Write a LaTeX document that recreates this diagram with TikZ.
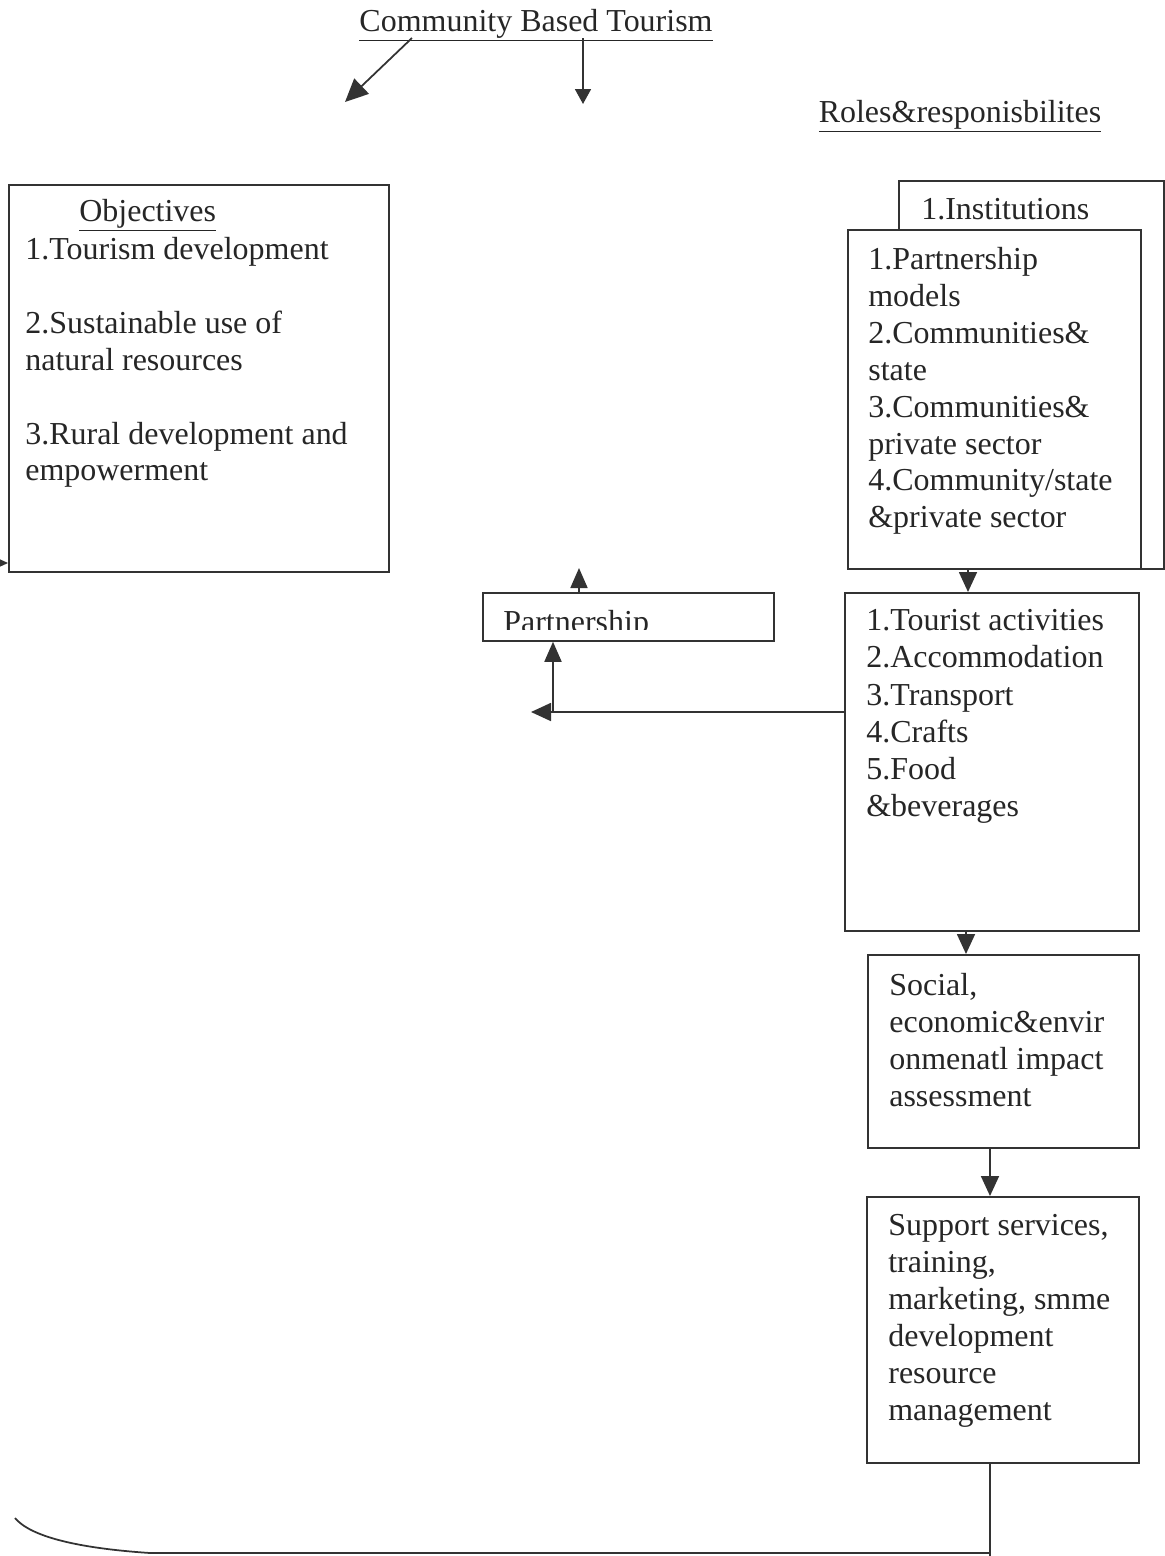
\documentclass[tikz,border=0pt]{standalone}
\usepackage{fontspec}
\setmainfont{Liberation Serif}
\usetikzlibrary{arrows.meta}

\begin{document}
\begin{tikzpicture}[x=0.02cm,y=-0.02cm,
  box/.style={draw=black!80, line width=1pt, fill=white, inner sep=0pt, anchor=north west},
  txt/.style={anchor=north west, inner sep=0pt, align=left, text=black!85,
    font=\fontsize{18.2}{21}\selectfont},
  link/.style={draw=black!80, line width=1pt},
  arr/.style={link, -{Triangle[length=0.4cm,width=0.36cm]}}]
  \useasboundingbox (0,0) rectangle (1165,1556);
  % headings
  \node[txt, anchor=base] (title) at (536,31) {\underline{Community Based Tourism}};
  \node[txt, anchor=base] (roles) at (960,122) {\underline{Roles\&responisbilites}};
  \coordinate (tl) at (412,38);
  \coordinate (tr) at (583,38);
  \draw[arr, -{Triangle[length=0.46cm,width=0.42cm]}] (tl) -- (345,102) coordinate (objtip);
  \draw[arr, -{Triangle[length=0.3cm,width=0.32cm]}] (tr) -- (583,104) coordinate (rolestip);
  % objectives
  \node[box, minimum width=7.6cm, minimum height=7.74cm] (obj) at (8,184) {};
  \node[txt] (objhead) at (79,199) {\underline{Objectives}};
  \node[txt] (objtext) at (25,237) {1.Tourism development\\[21pt]
    2.Sustainable use of\\natural resources\\[21pt]
    3.Rural development and\\empowerment};
  \coordinate (objin) at (-12,563);
  \draw[arr] (objin) -- (obj.west |- objin);
  % institutions
  \node[box, minimum width=5.3cm, minimum height=7.76cm] (instback) at (898,180) {};
  \node[txt] (insthead) at (921,198) {1.Institutions};
  \node[box, minimum width=5.86cm, minimum height=6.78cm] (inst) at (847,229) {};
  \node[txt] (insttext) at (868,247) {1.Partnership\\models\\2.Communities\&\\state\\
    3.Communities\&\\private sector\\4.Community/state\\\&private sector};
  % activities
  \node[box, minimum width=5.88cm, minimum height=6.76cm] (act) at (844,592) {};
  \node[txt, font=\fontsize{18.2}{21.2}\selectfont] (acttext) at (866,609) {1.Tourist activities\\
    2.Accommodation\\3.Transport\\4.Crafts\\5.Food\\\&beverages};
  % impact
  \node[box, minimum width=5.42cm, minimum height=3.86cm] (soc) at (867,954) {};
  \node[txt] (soctext) at (889,973) {Social,\\economic\&envir\\onmenatl impact\\assessment};
  % support
  \node[box, minimum width=5.44cm, minimum height=5.32cm] (sup) at (866,1196) {};
  \node[txt] (suptext) at (888,1214) {Support services,\\training,\\marketing, smme\\
    development\\resource\\management};
  % partnership
  \node[box, minimum width=5.82cm, minimum height=0.96cm] (part) at (482,592) {};
  \begin{scope}
    \clip (482,592) rectangle (773,629);
    \node[txt] (parttext) at (503,610) {Partnership};
  \end{scope}
  % connectors
  \coordinate (c1) at (968,0);
  \coordinate (c2) at (966,0);
  \coordinate (c3) at (990,0);
  \draw[arr] (c1 |- inst.south) -- (c1 |- act.north);
  \draw[arr] (c2 |- act.south) -- (c2 |- soc.north);
  \draw[arr] (c3 |- soc.south) -- (c3 |- sup.north);
  \coordinate (pleft) at (531,712);
  \coordinate (pup) at (553,712);
  \coordinate (ptop) at (579,568);
  \draw[arr] (act.west |- pup) -- (pleft);
  \draw[arr, -{Triangle[length=0.4cm,width=0.34cm]}] (pup) -- (pup |- part.south);
  \draw[arr, -{Triangle[length=0.4cm,width=0.34cm]}] (ptop |- part.north) -- (ptop);
  \coordinate (foot) at (990,1553);
  \coordinate (bend) at (150,1553);
  \coordinate (bstart) at (15,1518);
  \draw[link] (c3 |- sup.south) -- (990,1556);
  \draw[link] (foot) -- (bend) .. controls (75,1548) and (30,1536) .. (bstart);
\end{tikzpicture}
\end{document}
